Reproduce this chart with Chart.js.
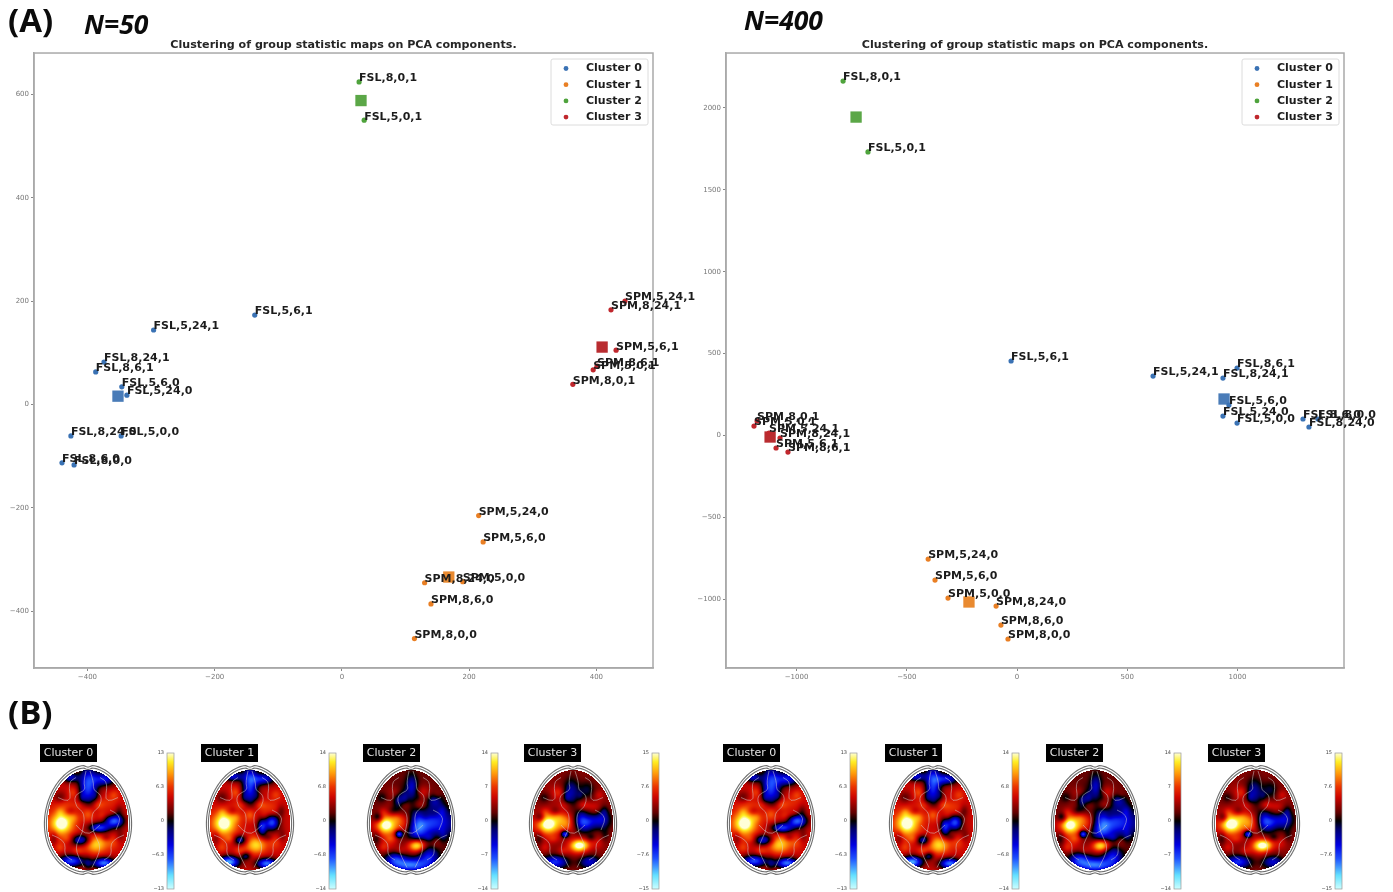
<!DOCTYPE html>
<html>
<head>
<meta charset="utf-8">
<title>Clustering of group statistic maps</title>
<script src="https://cdn.jsdelivr.net/npm/chart.js@4/dist/chart.umd.min.js"></script>
<style>
  html, body { margin: 0; padding: 0; background: #fff; overflow: hidden; }
  body { width: 1393px; height: 892px; position: relative; }
  canvas { position: absolute; filter: blur(0.55px); }
  #brains { filter: blur(0.65px); }
  .tag { position: absolute; color: #0b0b0b; font-family: "Open Sans", sans-serif; font-weight: 700; line-height: 1; filter: blur(0.4px); }
  .big { font-size: 33px; }
  .n { font-size: 26.5px; font-style: italic; }
</style>
</head>
<body>
<div class="tag big" style="left:8px;top:3px">(A)</div>
<div class="tag n" style="left:84px;top:11px">N=50</div>
<div class="tag n" style="left:744px;top:7px">N=400</div>
<div class="tag big" style="left:8px;top:695px">(B)</div>
<canvas id="chart50" style="left:0;top:36px"></canvas>
<canvas id="chart400" style="left:692px;top:36px"></canvas>
<canvas id="brains" style="left:0;top:682px"></canvas>

<script>
const clusterNames = ['Cluster 0', 'Cluster 1', 'Cluster 2', 'Cluster 3'];
const clusterColors = ['#3a72b4', '#e97f24', '#4fa33c', '#c0272d'];
const centerColors = ['#4a7cb8', '#e98a30', '#5ba747', '#b92c30'];
const chartTitle = 'Clustering of group statistic maps on PCA components.';

// N=50
const labels50c0 = ['FSL,5,6,1', 'FSL,5,24,1', 'FSL,8,24,1', 'FSL,8,6,1', 'FSL,5,6,0', 'FSL,5,24,0', 'FSL,8,24,0', 'FSL,5,0,0', 'FSL,8,6,0', 'FSL,8,0,0'];
const x50c0 = [-137, -296, -374, -387, -346, -338, -426, -347, -440, -421];
const y50c0 = [173, 144, 82, 63, 34, 18, -61, -61, -113, -117];
const labels50c1 = ['SPM,5,24,0', 'SPM,5,6,0', 'SPM,8,24,0', 'SPM,5,0,0', 'SPM,8,6,0', 'SPM,8,0,0'];
const x50c1 = [215, 222, 130, 190, 140, 114];
const y50c1 = [-215, -266, -345, -343, -386, -453];
const labels50c2 = ['FSL,8,0,1', 'FSL,5,0,1'];
const x50c2 = [27, 35];
const y50c2 = [624, 550];
const labels50c3 = ['SPM,5,24,1', 'SPM,8,24,1', 'SPM,5,6,1', 'SPM,8,6,1', 'SPM,5,0,1', 'SPM,8,0,1'];
const x50c3 = [445, 423, 431, 401, 395, 363];
const y50c3 = [200, 183, 105, 74, 67, 39];
const centersX50 = [-352, 168, 30, 409];
const centersY50 = [16, -334, 588, 111];
const xTicks50 = [-400, -200, 0, 200, 400];
const yTicks50 = [-400, -200, 0, 200, 400, 600];

// N=400
const labels400c0 = ['FSL,5,6,1', 'FSL,5,24,1', 'FSL,8,6,1', 'FSL,8,24,1', 'FSL,5,6,0', 'FSL,5,24,0', 'FSL,5,0,0', 'FSL,8,6,0', 'FSL,8,0,0', 'FSL,8,24,0'];
const x400c0 = [-27, 617, 998, 934, 961, 934, 998, 1297, 1365, 1324];
const y400c0 = [455, 363, 412, 351, 186, 119, 76, 101, 101, 52];
const labels400c1 = ['SPM,5,24,0', 'SPM,5,6,0', 'SPM,5,0,0', 'SPM,8,24,0', 'SPM,8,6,0', 'SPM,8,0,0'];
const x400c1 = [-403, -372, -313, -95, -73, -41];
const y400c1 = [-754, -882, -992, -1041, -1157, -1242];
const labels400c2 = ['FSL,8,0,1', 'FSL,5,0,1'];
const x400c2 = [-789, -676];
const y400c2 = [2164, 1731];
const labels400c3 = ['SPM,8,0,1', 'SPM,5,0,1', 'SPM,5,24,1', 'SPM,8,24,1', 'SPM,5,6,1', 'SPM,8,6,1'];
const x400c3 = [-1179, -1193, -1125, -1075, -1093, -1039];
const y400c3 = [89, 58, 15, -15, -76, -101];
const centersX400 = [939, -218, -730, -1120];
const centersY400 = [223, -1016, 1944, -9];
const xTicks400 = [-1000, -500, 0, 500, 1000];
const yTicks400 = [-1000, -500, 0, 500, 1000, 1500, 2000];

// Panel B: colour bar labels, and the blobs of each stat map [x, y, rx, ry, value]
const barTicks = [
  ['13', '6.3', '0', '-6.3', '-13'],
  ['14', '6.8', '0', '-6.8', '-14'],
  ['14', '7', '0', '-7', '-14'],
  ['15', '7.6', '0', '-7.6', '-15']
];
const brainBase = [0.34, 0.34, 0.14, 0.2];
const brainBlobs0 = [
  [0, -0.68, 0.24, 0.42, -0.85], [-0.45, -0.85, 0.2, 0.1, -0.6], [0.42, -0.82, 0.28, 0.14, -0.7],
  [-0.66, 0.07, 0.32, 0.25, 0.6], [-0.66, 0.07, 0.17, 0.14, 0.22], [0, -0.14, 0.17, 0.16, 0.35],
  [0.2, 0.48, 0.28, 0.18, 0.5], [0.66, 0.02, 0.24, 0.13, -0.9], [0.28, 0.16, 0.26, 0.1, -0.8],
  [-0.18, 0.4, 0.24, 0.11, -0.7], [-0.42, 0.82, 0.32, 0.12, -0.85], [0.4, 0.86, 0.28, 0.11, -0.95],
  [0, 0.88, 0.1, 0.14, -0.25], [-0.6, -0.3, 0.25, 0.14, 0.12], [0.45, -0.35, 0.28, 0.14, 0.12]
];
const brainBlobs1 = [
  [0, -0.7, 0.2, 0.45, -0.8], [-0.42, -0.87, 0.24, 0.1, -0.65], [0.35, -0.82, 0.28, 0.12, -0.7],
  [-0.64, 0.07, 0.32, 0.25, 0.6], [-0.66, 0.07, 0.16, 0.14, 0.22], [0, -0.12, 0.15, 0.15, 0.35],
  [0.15, 0.5, 0.26, 0.17, 0.5], [0.55, 0.05, 0.18, 0.16, -0.85], [0.3, 0.15, 0.12, 0.18, -0.7],
  [-0.25, 0.4, 0.16, 0.1, -0.6], [-0.52, 0.84, 0.26, 0.12, -1.05], [0.42, 0.87, 0.26, 0.11, -0.95],
  [-0.1, 0.72, 0.12, 0.08, -0.45], [0.5, -0.25, 0.22, 0.14, 0.15]
];
const brainBlobs2 = [
  [-0.62, 0.1, 0.3, 0.22, 0.8], [-0.62, 0.1, 0.14, 0.1, 0.2], [0.16, 0.5, 0.22, 0.12, 0.7],
  [0.1, 0.56, 0.24, 0.15, 0.2], [0.55, 0.05, 0.55, 0.28, -0.6], [0.15, 0.18, 0.24, 0.28, -0.5],
  [-0.15, 0.05, 0.24, 0.2, 0.38], [0, 0.9, 0.45, 0.14, -0.75], [-0.4, 0.78, 0.24, 0.14, -0.5],
  [0.45, 0.72, 0.24, 0.2, -0.5], [-0.3, -0.4, 0.16, 0.22, -0.45], [0.02, -0.65, 0.15, 0.25, -0.45],
  [-0.55, -0.45, 0.24, 0.2, 0.15], [0.3, -0.55, 0.22, 0.14, 0.22], [0.6, -0.4, 0.18, 0.15, -0.35],
  [-0.55, 0.5, 0.24, 0.18, 0.2], [-0.3, 0.28, 0.09, 0.07, -0.8], [-0.82, -0.05, 0.12, 0.1, -0.4]
];
const brainBlobs3 = [
  [-0.62, 0.08, 0.32, 0.22, 0.8], [-0.62, 0.08, 0.15, 0.1, 0.2], [0.18, 0.5, 0.24, 0.12, 0.7],
  [0.1, 0.56, 0.24, 0.15, 0.25], [0.28, 0.02, 0.24, 0.2, -0.75], [0.7, 0.0, 0.24, 0.18, -0.5],
  [-0.15, 0.05, 0.2, 0.2, 0.38], [-0.2, 0.28, 0.1, 0.07, -0.8], [-0.45, 0.84, 0.32, 0.13, -0.65],
  [0.42, 0.84, 0.26, 0.13, -0.5], [-0.05, -0.55, 0.2, 0.28, -0.42], [-0.55, -0.5, 0.22, 0.2, 0.1],
  [0.35, -0.6, 0.2, 0.18, -0.25], [0.5, -0.25, 0.22, 0.12, 0.2], [-0.82, -0.05, 0.12, 0.1, -0.35]
];
const brainBlobs = [brainBlobs0, brainBlobs1, brainBlobs2, brainBlobs3];
// patches that give the maps their mottled look, shared by all of them
const brainMottle = [
  [-0.7, -0.45, 0.16, 0.12, -0.22], [-0.35, -0.55, 0.14, 0.12, 0.22], [-0.2, -0.3, 0.16, 0.1, 0.2],
  [0.25, -0.3, 0.15, 0.1, 0.2], [0.65, -0.5, 0.12, 0.1, 0.16], [0.78, -0.18, 0.1, 0.12, -0.2],
  [-0.85, 0.35, 0.1, 0.14, -0.2], [-0.7, 0.55, 0.12, 0.1, 0.16], [-0.25, 0.62, 0.14, 0.09, 0.16],
  [0.62, 0.45, 0.16, 0.14, 0.15], [0.8, 0.3, 0.1, 0.14, -0.15], [0.35, -0.08, 0.12, 0.1, 0.15],
  [-0.35, -0.05, 0.14, 0.1, 0.15], [-0.45, -0.18, 0.12, 0.08, -0.15], [0.55, -0.12, 0.14, 0.08, 0.1],
  [-0.15, -0.45, 0.08, 0.12, -0.15], [0.18, -0.48, 0.08, 0.1, -0.12], [-0.5, 0.38, 0.14, 0.08, 0.15],
  [0.45, 0.35, 0.12, 0.07, -0.18], [-0.7, -0.15, 0.1, 0.09, 0.12]
];
const colorStops = [
  [-1, 205, 255, 255], [-0.8, 100, 225, 255], [-0.55, 30, 80, 255], [-0.35, 0, 0, 225], [-0.12, 0, 0, 110],
  [0, 0, 0, 0], [0.12, 95, 0, 0], [0.35, 205, 5, 0], [0.5, 235, 50, 0], [0.7, 255, 155, 10], [0.87, 255, 238, 35], [1, 255, 255, 215]
];

function lookup(v) {
  v = Math.max(-1, Math.min(1, v));
  for (let i = 1; i < colorStops.length; i++) {
    if (v <= colorStops[i][0]) {
      const a = colorStops[i - 1], b = colorStops[i];
      const t = (v - a[0]) / (b[0] - a[0]);
      return [a[1] + (b[1] - a[1]) * t, a[2] + (b[2] - a[2]) * t, a[3] + (b[3] - a[3]) * t];
    }
  }
  return colorStops[colorStops.length - 1].slice(1);
}

// frame, point names and the legend box of a scatter panel
const scatterExtras = {
  id: 'scatterExtras',
  afterDatasetsDraw(chart) {
    const ctx = chart.ctx, a = chart.chartArea;
    ctx.save();
    ctx.strokeStyle = '#a9a9a9';
    ctx.lineWidth = 1.5;
    ctx.strokeRect(a.left, a.top, a.right - a.left, a.bottom - a.top);

    ctx.font = 'bold 11px "DejaVu Sans"';
    ctx.fillStyle = '#1c1c1c';
    ctx.textBaseline = 'middle';
    chart.data.datasets.forEach((ds, i) => {
      if (!ds.names) return;
      chart.getDatasetMeta(i).data.forEach((pt, j) => {
        ctx.fillText(ds.names[j], pt.x, pt.y - 3.5);
      });
    });

    // legend box
    const lx = a.right - 102, ly = a.top + 6;
    ctx.fillStyle = 'rgba(255,255,255,0.85)';
    ctx.strokeStyle = '#dcdcdc';
    ctx.lineWidth = 1;
    ctx.beginPath();
    ctx.roundRect(lx, ly, 97, 66, 2);
    ctx.fill();
    ctx.stroke();
    clusterNames.forEach((name, i) => {
      const y = ly + 9.5 + i * 16.2;
      ctx.fillStyle = clusterColors[i];
      ctx.beginPath();
      ctx.arc(lx + 15, y, 2.4, 0, Math.PI * 2);
      ctx.fill();
      ctx.fillStyle = '#1c1c1c';
      ctx.fillText(name, lx + 35, y);
    });
    ctx.restore();
  }
};

function makeScatter(id, width, rightPad, xr, yr, xTicks, yTicks, series, centersX, centersY) {
  const canvas = document.getElementById(id);
  canvas.width = width;
  canvas.height = 647;
  const datasets = series.map((s, i) => ({
    label: clusterNames[i],
    names: s[0],
    data: s[1].map((x, j) => ({ x: x, y: s[2][j] })),
    backgroundColor: clusterColors[i],
    borderWidth: 0,
    pointRadius: 2.6,
    clip: false
  }));
  // cluster centres as squares
  centersX.forEach((x, i) => {
    datasets.push({
      label: clusterNames[i] + ' center',
      data: [{ x: x, y: centersY[i] }],
      backgroundColor: centerColors[i],
      borderWidth: 0,
      pointStyle: 'rect',
      pointRadius: 8,
      clip: false
    });
  });
  const tickOpts = {
    font: { family: 'DejaVu Sans', size: 7 },
    color: '#777',
    padding: 2,
    maxRotation: 0,
    autoSkip: false,
    callback: v => String(v).replace('-', '\u2212')
  };
  const gridOpts = { drawOnChartArea: false, drawTicks: true, tickLength: 3, color: '#888' };
  return new Chart(canvas, {
    type: 'scatter',
    data: { datasets: datasets },
    plugins: [scatterExtras],
    options: {
      responsive: false,
      animation: false,
      events: [],
      layout: { padding: { left: 0, right: rightPad, top: 0, bottom: 0 } },
      plugins: {
        legend: { display: false },
        tooltip: { enabled: false },
        title: {
          display: true,
          fullSize: false,
          text: chartTitle,
          color: '#262626',
          font: { family: 'DejaVu Sans', size: 11.1, weight: 'bold', lineHeight: 1.2 },
          padding: { top: 2, bottom: 1.7 }
        }
      },
      scales: {
        x: {
          type: 'linear', min: xr[0], max: xr[1],
          grid: gridOpts,
          border: { color: '#a9a9a9', width: 1.5 },
          ticks: tickOpts,
          afterBuildTicks: ax => { ax.ticks = xTicks.map(v => ({ value: v })); },
          afterFit: ax => { ax.height = 15; }
        },
        y: {
          type: 'linear', min: yr[0], max: yr[1],
          grid: gridOpts,
          border: { color: '#a9a9a9', width: 1.5 },
          ticks: tickOpts,
          afterBuildTicks: ax => { ax.ticks = yTicks.map(v => ({ value: v })); },
          afterFit: ax => { ax.width = 34; }
        }
      }
    }
  });
}

makeScatter('chart50', 720, 67, [-484, 489], [-510, 680], xTicks50, yTicks50, [
  [labels50c0, x50c0, y50c0], [labels50c1, x50c1, y50c1], [labels50c2, x50c2, y50c2], [labels50c3, x50c3, y50c3]
], centersX50, centersY50);

makeScatter('chart400', 700, 48, [-1320, 1483], [-1419, 2335], xTicks400, yTicks400, [
  [labels400c0, x400c0, y400c0], [labels400c1, x400c1, y400c1], [labels400c2, x400c2, y400c2], [labels400c3, x400c3, y400c3]
], centersX400, centersY400);

// Panel B: one hidden-axis chart holding the eight stat maps
const brainCentersX = [88, 250, 411, 573, 771, 933, 1095, 1256];
const barLefts = [167, 329, 491, 652, 850, 1012, 1174, 1335];
const boxLefts = [40, 201, 363, 524, 723, 885, 1046, 1208];
// sulcus outlines in brain coordinates
const contours = [
  [[-0.05, -0.98], [-0.12, -0.75], [-0.05, -0.6], [-0.35, -0.5], [-0.3, -0.25], [-0.08, -0.15], [-0.12, 0.25], [-0.35, 0.55], [-0.1, 0.95]],
  [[0.05, -0.98], [0.15, -0.75], [0.12, -0.6], [0.35, -0.5], [0.3, -0.25], [0.08, -0.15], [0.12, 0.25], [0.35, 0.55], [0.1, 0.95]],
  [[-0.75, -0.45], [-0.4, -0.3], [-0.5, -0.75], [-0.3, -0.85]],
  [[0.75, -0.45], [0.4, -0.3], [0.5, -0.75], [0.3, -0.85]],
  [[-0.9, 0.3], [-0.55, 0.4], [-0.6, 0.7], [-0.4, 0.8]],
  [[0.9, 0.3], [0.55, 0.4], [0.6, 0.7], [0.4, 0.8]],
  [[0.55, -0.2], [0.85, -0.1], [0.7, 0.2]],
  [[-0.3, 0.1], [-0.05, 0.35], [0.3, 0.1]]
];

// the head is a little narrower at the front than at the back
function eggWidth(ny) {
  return 1 + 0.07 * ny;
}

function renderMap(index, w, h) {
  const off = document.createElement('canvas');
  off.width = w;
  off.height = h;
  const octx = off.getContext('2d');
  const img = octx.createImageData(w, h);
  const blobs = brainBlobs[index].concat(brainMottle);
  for (let py = 0; py < h; py++) {
    for (let px = 0; px < w; px++) {
      const nx = (px + 0.5) / w * 2 - 1, ny = (py + 0.5) / h * 2 - 1;
      const ex = nx / eggWidth(ny);
      if (ex * ex + ny * ny > 1) continue;
      let v = brainBase[index];
      blobs.forEach(b => {
        const dx = (nx - b[0]) / b[2], dy = (ny - b[1]) / b[3];
        v += b[4] * Math.exp(-(dx * dx + dy * dy));
      });
      const c = lookup(v);
      const k = (py * w + px) * 4;
      img.data[k] = c[0];
      img.data[k + 1] = c[1];
      img.data[k + 2] = c[2];
      img.data[k + 3] = 255;
    }
  }
  octx.putImageData(img, 0, 0);
  return off;
}

function headOutline(ctx, cx, cy, rx, ry) {
  ctx.beginPath();
  for (let deg = 0; deg <= 360; deg += 3) {
    const t = deg * Math.PI / 180, c = Math.cos(t), s = Math.sin(t);
    const notch = 1 - 0.04 * Math.exp(-(c * c) / 0.006);
    const x = cx + rx * c * eggWidth(s), y = cy + ry * s * notch;
    if (deg === 0) ctx.moveTo(x, y); else ctx.lineTo(x, y);
  }
  ctx.closePath();
  ctx.stroke();
}

const brainPanel = {
  id: 'brainPanel',
  afterDraw(chart) {
    const ctx = chart.ctx, sx = chart.scales.x, sy = chart.scales.y;
    const cy = sy.getPixelForValue(820);
    brainCentersX.forEach((cxValue, i) => {
      const cx = sx.getPixelForValue(cxValue);
      const mapIndex = i % 4;
      ctx.save();
      ctx.drawImage(renderMap(mapIndex, 80, 100), cx - 40, cy - 50);

      ctx.strokeStyle = 'rgba(215,215,215,0.55)';
      ctx.lineWidth = 0.9;
      contours.forEach(line => {
        ctx.beginPath();
        const pts = line.map(p => [cx + p[0] * 40, cy + p[1] * 50]);
        ctx.moveTo(pts[0][0], pts[0][1]);
        for (let j = 1; j < pts.length - 1; j++) {
          ctx.quadraticCurveTo(pts[j][0], pts[j][1], (pts[j][0] + pts[j + 1][0]) / 2, (pts[j][1] + pts[j + 1][1]) / 2);
        }
        ctx.lineTo(pts[pts.length - 1][0], pts[pts.length - 1][1]);
        ctx.stroke();
      });

      ctx.strokeStyle = '#6e6e6e';
      ctx.lineWidth = 1.1;
      headOutline(ctx, cx, cy, 43.5, 55);
      headOutline(ctx, cx, cy, 41.5, 52.5);

      // black name tag
      const bx = sx.getPixelForValue(boxLefts[i]);
      ctx.fillStyle = '#000';
      ctx.fillRect(bx, sy.getPixelForValue(744), 57, 18);
      ctx.fillStyle = '#e4e4e4';
      ctx.font = '11px "DejaVu Sans"';
      ctx.textBaseline = 'middle';
      ctx.textAlign = 'center';
      ctx.fillText(clusterNames[mapIndex], bx + 28.5, sy.getPixelForValue(753));

      // colour bar
      const barX = sx.getPixelForValue(barLefts[i]);
      const top = sy.getPixelForValue(753), bottom = sy.getPixelForValue(889);
      const g = ctx.createLinearGradient(0, top, 0, bottom);
      colorStops.forEach(s => {
        g.addColorStop((1 - s[0]) / 2, 'rgb(' + s[1] + ',' + s[2] + ',' + s[3] + ')');
      });
      ctx.fillStyle = g;
      ctx.fillRect(barX, top, 7, bottom - top);
      ctx.strokeStyle = '#999';
      ctx.lineWidth = 0.7;
      ctx.strokeRect(barX, top, 7, bottom - top);
      ctx.fillStyle = '#444';
      ctx.font = '5px "DejaVu Sans"';
      ctx.textAlign = 'right';
      barTicks[mapIndex].forEach((t, j) => {
        ctx.fillText(t.replace('-', '\u2212'), barX - 3, top + (bottom - top) * j / 4);
      });
      ctx.restore();
    });
  }
};

const brainCanvas = document.getElementById('brains');
brainCanvas.width = 1393;
brainCanvas.height = 210;
new Chart(brainCanvas, {
  type: 'scatter',
  data: { datasets: [] },
  plugins: [brainPanel],
  options: {
    responsive: false,
    animation: false,
    events: [],
    layout: { padding: 0 },
    plugins: { legend: { display: false }, tooltip: { enabled: false } },
    scales: {
      x: { type: 'linear', min: 0, max: 1393, display: false },
      y: { type: 'linear', min: 682, max: 892, reverse: true, display: false }
    }
  }
});
</script>
</body>
</html>
